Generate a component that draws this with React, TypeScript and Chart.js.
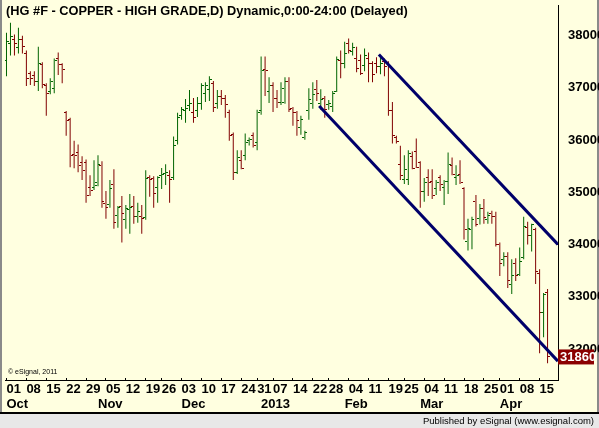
import React, { useEffect, useRef } from "react";
import { Chart, registerables } from "chart.js";

Chart.register(...registerables);

// Daily OHLC, HG #F copper, trading day index 0 = 01 Oct 2012 ... 136 = 17 Apr 2013
const opens = [
  37525, 37850, 37925, 37775, 37925, 37660, 37280, 37245, 37130, 37450,
  37055, 36940, 36995, 37565, 37450, 36525, 36390, 35725, 35765, 35575,
  35575, 35100, 35100, 35140, 35520, 34780, 34760, 35160, 34555, 34725,
  34475, 34665, 34725, 34535, 34535, 34515, 35290, 35275, 35100, 35330,
  35365, 35330, 35290, 35990, 36465, 36560, 36655, 36525, 36560, 36710,
  36900, 36960, 37090, 36710, 36845, 36805, 36525, 36105, 35385, 35615,
  35710, 35990, 36085, 35955, 36560, 37355, 36940, 37055, 36805, 36730,
  36730, 37130, 36600, 36525, 36240, 36050, 36560, 36710, 36960, 36710,
  36805, 36675, 36635, 36940, 37525, 37470, 37850, 37695, 37565, 37525,
  37430, 37565, 37470, 37470, 37415, 37510, 37470, 36560, 36050, 35540,
  35255, 35255, 35690, 35785, 35575, 35025, 35290, 35215, 35065, 35290,
  35085, 35215, 35520, 35290, 35350, 35065, 34060, 34290, 34820, 34495,
  34685, 34475, 34590, 34535, 34005, 33720, 33775, 33245, 33645, 33435,
  33755, 34325, 34175, 34290, 33455, 32695, 33075,
];
const highs = [
  38055, 38245, 38020, 38150, 38000, 37715, 37320, 37320, 37790, 37490,
  37090, 37185, 37565, 37680, 37470, 36560, 36430, 35990, 35915, 35690,
  35630, 35330, 35615, 35710, 35595, 35025, 35235, 35445, 34740, 34930,
  34760, 34970, 34930, 34800, 34760, 35425, 35330, 35310, 35310, 35465,
  35540, 35425, 36070, 36525, 36635, 36790, 36960, 36805, 36825, 37090,
  37110, 37225, 37130, 36960, 36960, 36865, 36580, 36145, 35805, 35805,
  36125, 36050, 36145, 36580, 37600, 37600, 37205, 37110, 36960, 37110,
  37205, 37205, 36635, 36560, 36465, 36180, 36995, 37110, 37150, 36975,
  36845, 36770, 36940, 37600, 37715, 37885, 37945, 37865, 37790, 37640,
  37755, 37680, 37510, 37585, 37585, 37565, 37510, 36730, 36085, 35895,
  35710, 35805, 35785, 36030, 35595, 35275, 35445, 35445, 35235, 35330,
  35235, 35765, 35670, 35520, 35615, 35100, 34495, 34535, 34950, 34780,
  34875, 34630, 34650, 34630, 34040, 33855, 33855, 33720, 33740, 33945,
  34535, 34440, 34400, 34325, 33530, 33075, 33150,
];
const lows = [
  37225, 37620, 37620, 37660, 37660, 37035, 37055, 37035, 36940, 36995,
  36465, 36880, 36900, 37245, 37090, 36085, 35480, 35460, 35385, 35235,
  34800, 34930, 35045, 35120, 34705, 34495, 34705, 34305, 34325, 34040,
  34305, 34210, 34400, 34420, 34210, 34475, 34915, 34705, 34800, 35065,
  35140, 34800, 35235, 35915, 36390, 36335, 36560, 36335, 36445, 36580,
  36730, 36750, 36540, 36600, 36675, 36430, 35990, 35235, 35350, 35445,
  35615, 35900, 35860, 35805, 36485, 36845, 36710, 36540, 36615, 36675,
  36695, 36540, 36275, 36085, 36105, 36010, 36390, 36600, 36750, 36580,
  36430, 36580, 36540, 36920, 37185, 37375, 37660, 37620, 37300, 37245,
  37320, 37110, 37110, 37280, 37260, 37225, 36465, 35935, 35935, 35235,
  35160, 35140, 35445, 35465, 34705, 34820, 34930, 34875, 34950, 35025,
  34760, 34970, 35330, 35140, 35160, 34100, 33890, 33910, 34345, 34385,
  34400, 34400, 34400, 33965, 33400, 33585, 33170, 33055, 33305, 33400,
  33720, 34005, 33870, 33245, 31920, 32225, 31730,
];
const closes = [
  37885, 37980, 37850, 37925, 37790, 37185, 37185, 37130, 37470, 37070,
  36900, 37130, 37525, 37450, 37355, 36370, 35710, 35710, 35520, 35425,
  34950, 35045, 35180, 35540, 34820, 34705, 35065, 34420, 34705, 34590,
  34685, 34705, 34535, 34630, 34495, 35275, 35255, 34970, 35290, 35350,
  35385, 35255, 35900, 36430, 36580, 36600, 36710, 36430, 36710, 37055,
  37055, 37165, 36620, 36845, 36805, 36675, 36085, 35385, 35670, 35465,
  35955, 36010, 35900, 36525, 37335, 37335, 37055, 36805, 36730, 36995,
  37130, 36580, 36525, 36370, 36390, 36145, 36770, 36865, 36900, 36770,
  36580, 36710, 36900, 37545, 37470, 37660, 37715, 37775, 37375, 37280,
  37620, 37470, 37260, 37415, 37470, 37415, 36560, 36085, 35975, 35330,
  35445, 35745, 35450, 35480, 35025, 35195, 35195, 34950, 35195, 35160,
  35215, 35540, 35350, 35330, 35195, 34290, 34305, 34475, 34385, 34685,
  34515, 34555, 34535, 34005, 33645, 33775, 33305, 33400, 33415, 33680,
  34345, 34175, 34390, 33490, 32695, 33055, 31860,
];

// Week tick labels (first trading day of each week) and month labels
const weekTickIndex = [0, 5, 10, 15, 20, 25, 30, 35, 39, 44, 49, 54, 59, 63, 67, 72, 77, 81, 86, 91, 96, 100, 105, 110, 115, 120, 124, 129, 134];
const weekTickLabels = ["01", "08", "15", "22", "29", "05", "12", "19", "26", "03", "10", "17", "24", "31", "07", "14", "22", "28", "04", "11", "19", "25", "04", "11", "18", "25", "01", "08", "15"];
const monthTickIndex = [0, 23, 44, 64, 85, 104, 124];
const monthTickLabels = ["Oct", "Nov", "Dec", "2013", "Feb", "Mar", "Apr"];
const priceTicks = [32000, 33000, 34000, 35000, 36000, 37000, 38000];

// Drawn channel lines (trading-day index, price)
const lowerChannel = [{ x: 78.6, y: 36655 }, { x: 138.6, y: 31770 }];
const upperChannel = [{ x: 93.6, y: 37640 }, { x: 138.6, y: 34004 }];
const lastPrice = 31860;

const titleText = "(HG #F - COPPER - HIGH GRADE,D) Dynamic,0:00-24:00 (Delayed)";
const copyrightText = "\u00A9 eSignal, 2011";
const publishedText = "Published by eSignal (www.esignal.com)";

const X_MIN = -0.375;
const X_MAX = 138.625;
const Y_MIN = 31409;
const Y_MAX = 38587;
const UP = "#006400";
const DOWN = "#800000";
const NAVY = "#00006A";
const BG = "#FFFFE0";
const FONT = "'Liberation Sans', Arial, sans-serif";

function makeTick(color: string, side: "left" | "right") {
  const c = document.createElement("canvas");
  c.width = 5;
  c.height = 1;
  const g = c.getContext("2d")!;
  g.fillStyle = color;
  g.fillRect(side === "left" ? 0 : 3, 0, 2, 1);
  return c;
}

const isUp = (i: number) => closes[i] >= opens[i];

const decorPlugin = {
  id: "decor",
  beforeDraw(chart: any) {
    const { ctx, width, height } = chart;
    const footTop = chart.scales.x2.bottom;
    ctx.save();
    ctx.fillStyle = BG;
    ctx.fillRect(0, 0, width, height);
    ctx.fillStyle = "#E8E8E8";
    ctx.fillRect(0, footTop, width, height - footTop);
    ctx.fillStyle = "#000";
    ctx.fillRect(0, footTop, width, 2);
    ctx.fillStyle = "#8A8A8A";
    ctx.fillRect(0, 0, 2, footTop);
    ctx.fillRect(width - 2, 0, 2, footTop);
    ctx.restore();
  },
  beforeDatasetsDraw(chart: any) {
    chart.ctx.imageSmoothingEnabled = false;
  },
  afterDraw(chart: any) {
    const { ctx, width, height, chartArea } = chart;
    const yScale = chart.scales.y;
    ctx.save();
    ctx.textBaseline = "middle";
    ctx.textAlign = "left";
    ctx.fillStyle = "#000";
    ctx.font = `bold 12.8px ${FONT}`;
    ctx.fillText(titleText, chartArea.left + 1, 11);
    ctx.font = `7px ${FONT}`;
    ctx.fillText(copyrightText, chartArea.left + 3, chartArea.bottom - 8);
    ctx.font = `9.5px ${FONT}`;
    ctx.textAlign = "right";
    const footTop = chart.scales.x2.bottom;
    ctx.fillText(publishedText, width - 5, (footTop + height) / 2 + 1);
    // last price box
    const py = yScale.getPixelForValue(lastPrice);
    ctx.fillStyle = "#8B0000";
    ctx.fillRect(chartArea.right, py - 7, 36, 15);
    ctx.fillStyle = "#FFF";
    ctx.textAlign = "left";
    ctx.font = `bold 13px ${FONT}`;
    ctx.fillText(String(lastPrice), chartArea.right + 2, py + 1);
    ctx.restore();
  },
};

export default function App() {
  const ref = useRef<HTMLCanvasElement>(null);
  useEffect(() => {
    const canvas = ref.current;
    if (!canvas) return;
    const ticks = {
      openUp: makeTick(UP, "left"),
      openDown: makeTick(DOWN, "left"),
      closeUp: makeTick(UP, "right"),
      closeDown: makeTick(DOWN, "right"),
    };
    const labelFont = { family: FONT, size: 13, weight: "bold" as const };
    const chart = new Chart(canvas, {
      type: "bar",
      data: {
        datasets: [
          {
            type: "line",
            label: "lower",
            data: lowerChannel,
            borderColor: NAVY,
            borderWidth: 3,
            pointRadius: 0,
            tension: 0,
            order: 0,
          } as any,
          {
            type: "line",
            label: "upper",
            data: upperChannel,
            borderColor: NAVY,
            borderWidth: 3,
            pointRadius: 0,
            tension: 0,
            order: 0,
          } as any,
          {
            type: "scatter",
            label: "open",
            data: opens.map((o, i) => ({ x: i, y: o })),
            pointStyle: (c: any) => (isUp(c.dataIndex) ? ticks.openUp : ticks.openDown),
            pointRadius: 3,
            order: 1,
          } as any,
          {
            type: "scatter",
            label: "close",
            data: closes.map((v, i) => ({ x: i, y: v })),
            pointStyle: (c: any) => (isUp(c.dataIndex) ? ticks.closeUp : ticks.closeDown),
            pointRadius: 3,
            order: 1,
          } as any,
          {
            type: "bar",
            label: "range",
            data: highs.map((h, i) => ({ x: i, y: [lows[i], h] })),
            backgroundColor: highs.map((_, i) => (isUp(i) ? UP : DOWN)),
            barThickness: 1,
            borderWidth: 0,
            inflateAmount: 0,
            grouped: false,
            order: 2,
          } as any,
        ],
      },
      options: {
        responsive: false,
        animation: false,
        devicePixelRatio: 1,
        events: [],
        layout: { padding: { left: 2, right: 0, top: 1, bottom: 16 } },
        plugins: { legend: { display: false }, tooltip: { enabled: false }, title: { display: false } },
        scales: {
          x: {
            type: "linear",
            position: "bottom",
            min: X_MIN,
            max: X_MAX,
            offset: false,
            weight: 0,
            afterBuildTicks: (s: any) => {
              s.ticks = weekTickIndex.map((v) => ({ value: v }));
            },
            afterFit: (s: any) => {
              s.height = 17;
              s.paddingLeft = 0;
              s.paddingRight = 0;
            },
            ticks: {
              autoSkip: false,
              maxRotation: 0,
              minRotation: 0,
              align: "start",
              padding: 4,
              color: "#000",
              font: labelFont,
              callback: (_v: any, i: number) => weekTickLabels[i],
            },
            grid: { display: true, drawOnChartArea: false, drawTicks: true, tickLength: -2, color: "#000", offset: false },
            border: { display: true, color: "#000", width: 1 },
          } as any,
          x2: {
            type: "linear",
            position: "bottom",
            min: X_MIN,
            max: X_MAX,
            offset: false,
            weight: 1,
            afterBuildTicks: (s: any) => {
              s.ticks = monthTickIndex.map((v) => ({ value: v }));
            },
            afterFit: (s: any) => {
              s.height = 15;
              s.paddingLeft = 0;
              s.paddingRight = 0;
            },
            ticks: {
              autoSkip: false,
              maxRotation: 0,
              minRotation: 0,
              align: "start",
              padding: 0,
              color: "#000",
              font: labelFont,
              callback: (_v: any, i: number) => monthTickLabels[i],
            },
            grid: { display: false, drawTicks: false },
            border: { display: false },
          } as any,
          y: {
            type: "linear",
            position: "right",
            min: Y_MIN,
            max: Y_MAX,
            afterBuildTicks: (s: any) => {
              s.ticks = priceTicks.map((v) => ({ value: v }));
            },
            afterFit: (s: any) => {
              s.width = 41;
              s.paddingTop = 0;
              s.paddingBottom = 0;
            },
            ticks: {
              padding: 2,
              color: "#000",
              font: labelFont,
              callback: (v: any) => String(v),
            },
            grid: { display: false },
            border: { display: true, color: "#000", width: 1 },
          } as any,
        },
      },
      plugins: [decorPlugin],
    } as any);
    return () => chart.destroy();
  }, []);
  return (
    <div style={{ position: "fixed", left: 0, top: 0, width: 599, height: 428 }}>
      <canvas ref={ref} width={599} height={428} style={{ display: "block", width: 599, height: 428 }} />
    </div>
  );
}
